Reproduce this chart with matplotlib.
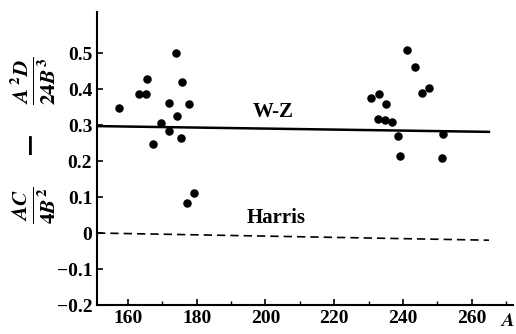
import numpy as np
from matplotlib import pyplot as plt

plt.rcParams['font.family'] = 'Liberation Serif'
plt.rcParams['font.weight'] = 'bold'
plt.rcParams['mathtext.fontset'] = 'stix'

# measured points (mass number A, value)
A_left = [157.5, 163.2, 165.2, 165.6, 174.0, 175.8, 171.8, 177.9, 174.2,
          169.5, 171.8, 175.4, 167.4, 179.3, 177.2]
v_left = [0.346, 0.385, 0.385, 0.428, 0.499, 0.420, 0.360, 0.358, 0.326,
          0.305, 0.283, 0.265, 0.246, 0.110, 0.082]
A_right = [241.3, 243.6, 247.7, 245.4, 230.8, 233.0, 235.0, 232.7, 234.9,
           236.7, 238.6, 251.5, 239.0, 251.3]
v_right = [0.509, 0.461, 0.404, 0.388, 0.374, 0.385, 0.358, 0.317, 0.313,
           0.308, 0.269, 0.274, 0.214, 0.209]

# theory curves
wz_A = [151, 265]
wz_v = [0.297, 0.281]
harris_A = [151, 265]
harris_v = [0.0, -0.02]

fig = plt.figure(figsize=(5.16, 3.34), dpi=100)
ax = fig.add_axes([97/516, 29/334, 416/516, 293/334])

ax.scatter(A_left + A_right, v_left + v_right, s=26, color='black', zorder=3)
ax.plot(wz_A, wz_v, color='black', lw=1.8)
ax.plot(harris_A, harris_v, color='black', lw=1.2, ls=(0, (5, 3)))

ax.text(196.3, 0.336, 'W-Z', fontsize=15, fontweight='bold', va='center')
ax.text(194.4, 0.042, 'Harris', fontsize=15, fontweight='bold', va='center')

ax.set_xlim(151, 272)
ax.set_ylim(-0.2, 0.614)
ax.spines['top'].set_visible(False)
ax.spines['right'].set_visible(False)
ax.spines['left'].set_linewidth(1.5)
ax.spines['bottom'].set_linewidth(1.5)

ax.set_xticks([160, 180, 200, 220, 240, 260])
ax.set_xticks(np.arange(160, 271, 10), minor=True)
yt = [-0.2, -0.1, 0, 0.1, 0.2, 0.3, 0.4, 0.5]
ax.set_yticks(yt)
ax.set_yticklabels(['\u22120.2', '\u22120.1', '0', '0.1', '0.2', '0.3', '0.4', '0.5'])
ax.tick_params(direction='in', length=4, width=1.2, labelsize=14)
ax.tick_params(which='minor', direction='in', length=3, width=1)

fig.text(507/516, 1 - 321/334, '$A$', fontsize=14, ha='center', va='center')
fig.text(33/516, 1 - 140/334,
         r'$\frac{AC}{4B^2}\quad-\quad\frac{A^{\,2}D}{24B^3}$',
         rotation=90, fontsize=22, ha='center', va='center')

fig.savefig('out.png', dpi=100)
